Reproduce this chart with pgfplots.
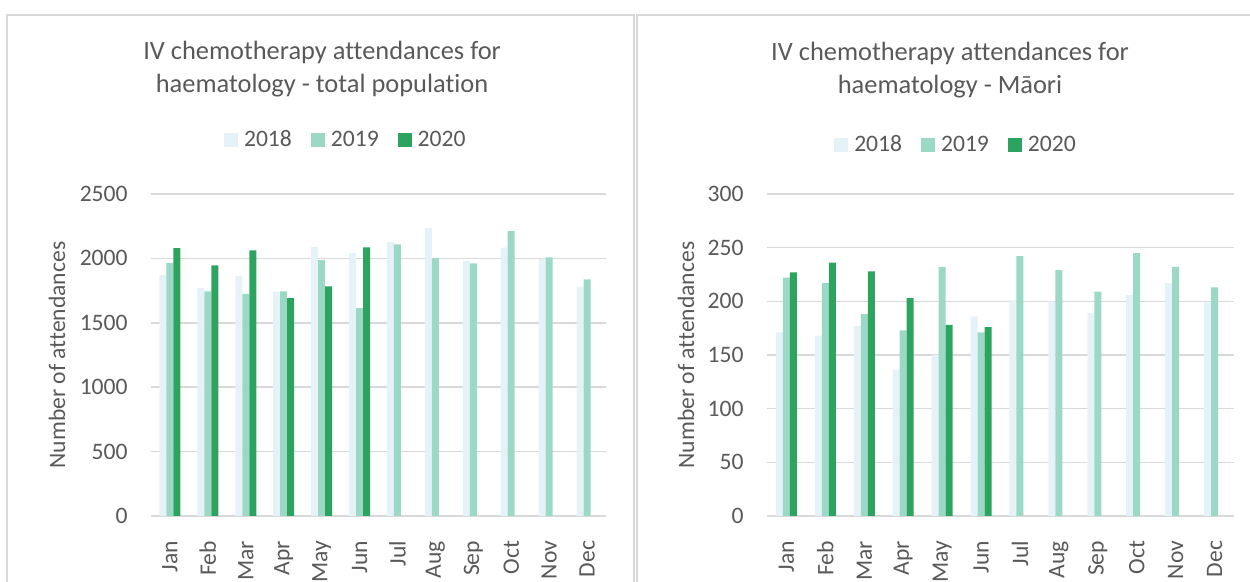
\documentclass[border=0pt]{standalone}
\usepackage{pgfplots}
\pgfplotsset{compat=1.18}
\usepackage{fontspec}
\setmainfont{Carlito}[Ligatures=NoCommon]
\definecolor{c18}{HTML}{E5F3F9}
\definecolor{c19}{HTML}{9BD8C6}
\definecolor{c20}{HTML}{2CA460}
\definecolor{txt}{HTML}{595959}
\definecolor{gridc}{HTML}{D9D9D9}
\pgfplotsset{
 mystyle/.style={
  scale only axis, height=161pt,
  ybar=0pt, bar width=3.5pt,
  xmin=-0.5, xmax=11.5, ymin=0,
  xtick={0,...,11},
  xticklabels={Jan,Feb,Mar,Apr,May,Jun,Jul,Aug,Sep,Oct,Nov,Dec},
  axis line style={draw=none},
  tick style={draw=none},
  ymajorgrids,
  major grid style={gridc, line width=0.75pt},
  /pgf/number format/assume math mode=true,
  /pgf/number format/1000 sep={},
  ticklabel style={font=\fontsize{11.8}{14}\selectfont, text=txt},
  yticklabel style={anchor=east, inner sep=0pt, xshift=-11.5pt},
  xticklabel style={yshift=-8pt, rotate=90, anchor=east, inner sep=0pt},
  every axis y label/.style={at={(axis description cs:0,0.5)}, rotate=90, anchor=center, font=\fontsize{11.8}{14}\selectfont, text=txt},
  ylabel={Number of attendances},
  legend columns=3,
  legend image code/.code={\fill[##1] (0pt,-3.5pt) rectangle (7pt,3.5pt);},
  legend style={draw=none, fill=none, inner sep=0pt, anchor=center,
    font=\fontsize{11.8}{14}\selectfont, text=txt,
    nodes={inner sep=0pt},
    /tikz/every odd column/.append style={column sep=3pt},
    /tikz/every even column/.append style={column sep=9.5pt}},
  title style={anchor=center, align=center, font=\fontsize{13.2}{16.5}\selectfont, text=txt},
 }
}
\begin{document}
\begin{tikzpicture}
\useasboundingbox (0pt,0pt) rectangle (625pt,291pt);
\draw[gridc, line width=0.75pt] (3.5pt,-3pt) -- (3.5pt,283.5pt) -- (317pt,283.5pt) -- (317pt,-3pt);
\draw[gridc, line width=0.75pt] (318.5pt,-3pt) -- (318.5pt,283.5pt) -- (628pt,283.5pt);
\begin{axis}[mystyle, at={(75.5pt,33pt)}, anchor=south west, width=227.5pt,
  ymax=2500, ytick={0,500,...,2500},
  ylabel style={yshift=47pt},
  legend style={at={(axis description cs:0.426,1.168)}},
  title={IV chemotherapy attendances for\\haematology - total population},
  title style={at={(axis description cs:0.376,1.35)}}]
\addplot[fill=c18, draw=none] coordinates {(0,1870)(1,1769)(2,1863)(3,1741)(4,2088)(5,2041)(6,2127)(7,2236)(8,1982)(9,2083)(10,1997)(11,1780)};
\addplot[fill=c19, draw=none] coordinates {(0,1964)(1,1744)(2,1725)(3,1744)(4,1987)(5,1614)(6,2109)(7,2003)(8,1961)(9,2212)(10,2008)(11,1837)};
\addplot[fill=c20, draw=none] coordinates {(0,2080)(1,1946)(2,2062)(3,1692)(4,1782)(5,2085)};
\legend{2018,2019,2020}
\end{axis}
\begin{axis}[mystyle, at={(383.5pt,33pt)}, anchor=south west, width=233.5pt,
  ymax=300, ytick={0,50,...,300},
  ylabel style={yshift=40.5pt},
  legend style={at={(axis description cs:0.4026,1.152)}},
  title={IV chemotherapy attendances for\\haematology - Māori},
  title style={at={(axis description cs:0.392,1.348)}}]
\addplot[fill=c18, draw=none] coordinates {(0,171)(1,168)(2,177)(3,136)(4,150)(5,186)(6,201)(7,200)(8,189)(9,206)(10,217)(11,199)};
\addplot[fill=c19, draw=none] coordinates {(0,222)(1,217)(2,188)(3,173)(4,232)(5,171)(6,242)(7,229)(8,209)(9,245)(10,232)(11,213)};
\addplot[fill=c20, draw=none] coordinates {(0,227)(1,236)(2,228)(3,203)(4,178)(5,176)};
\legend{2018,2019,2020}
\end{axis}
\end{tikzpicture}
\end{document}
